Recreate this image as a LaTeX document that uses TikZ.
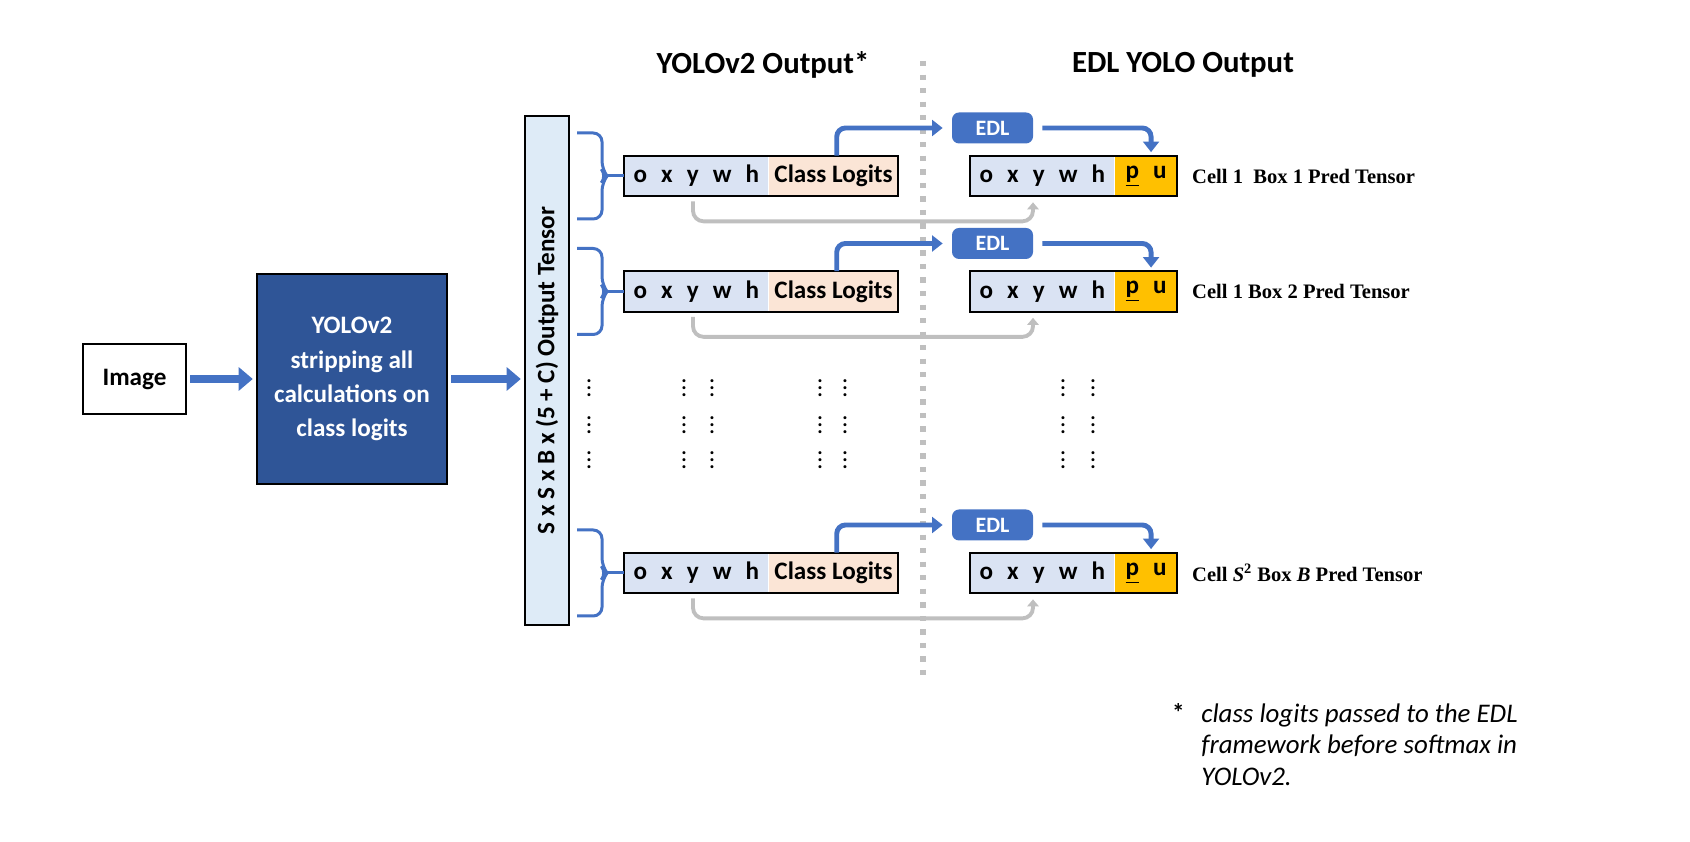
\documentclass[tikz,border=0pt]{standalone}
\usepackage{fontspec}
\setmainfont{Carlito}
\newfontfamily\cellfont{Liberation Serif}
\usetikzlibrary{arrows.meta,positioning}

\definecolor{barblue}{HTML}{DEEBF7}
\definecolor{yoloblue}{HTML}{2F5597}
\definecolor{cellblue}{HTML}{DAE3F3}
\definecolor{logitorange}{HTML}{FBE5D6}
\definecolor{probgold}{HTML}{FFC000}
\definecolor{edlblue}{HTML}{4472C4}
\definecolor{arrowgray}{HTML}{BFBFBF}

\newcommand{\gap}{\hspace{8pt}}
\newcommand{\vdotcol}{\vbox{\baselineskip=3.9pt \lineskiplimit=0pt \hbox{.}\hbox{.}\hbox{.}}}

\begin{document}
\fontsize{14.3}{19.4}\selectfont
\begin{tikzpicture}
\useasboundingbox (0, 0) rectangle (33.8, 16.84);

\tikzset{box/.style={draw, line width=1.1pt, align=center, font=\bfseries}}
\tikzset{part/.style={inner sep=0pt, minimum height=0.8cm, anchor=west, font=\bfseries}}
\tikzset{edlbox/.style={fill=edlblue, rounded corners=4pt, minimum width=1.62cm, minimum height=0.62cm, inner sep=0pt, text=white, font=\fontsize{12.5}{14}\selectfont\bfseries}}
\tikzset{bigarrow/.style={-{Triangle[length=8pt, width=13pt]}, line width=5pt, draw=edlblue, shorten <=2pt, shorten >=2pt}}
\tikzset{edlarrow/.style={-{Triangle[length=6pt, width=9pt]}, line width=2.8pt, draw=edlblue, rounded corners=5pt}}
\tikzset{grayarrow/.style={-{Triangle[length=4pt, width=6.5pt]}, line width=2.2pt, draw=arrowgray, rounded corners=6pt}}
\tikzset{brace/.style={line width=1.7pt, draw=edlblue, rounded corners=5pt}}
\tikzset{divider/.style={line width=3pt, draw=arrowgray, dash pattern=on 3pt off 4.7pt}}

\node[box, minimum width=2.06cm, minimum height=1.4cm] (image) at (2.69, 9.26) {Image};
\node[box, fill=yoloblue, text=white, line width=0.8pt, minimum width=3.8cm, minimum height=4.2cm] (yolo) at (7.04, 9.26) {YOLOv2\\stripping all\\calculations on\\class logits};
\node[box, fill=barblue, line width=0.8pt, minimum width=0.88cm, minimum height=10.18cm] (tensor) at (10.94, 9.43) {};
\node[rotate=90, font=\bfseries] (tensorlab) at (tensor.center) {S x S x B x (5 + C) Output Tensor};

\path (image) edge [bigarrow] (yolo);
\draw[bigarrow] (yolo.east) -- (yolo.east -| tensor.west);

\coordinate (divtop) at (18.46, 15.62);
\coordinate (divbot) at (18.46, 3.22);
\draw[divider] (divtop) -- (divbot);

\node[font=\fontsize{17.5}{20}\selectfont\bfseries] (headyolo) at (15.26, 15.54) {YOLOv2 Output*};
\node[font=\fontsize{17.5}{20}\selectfont\bfseries] (headedl) at (23.66, 15.54) {EDL YOLO Output};

\foreach \r/\y/\lab in {1/13.32/{Cell 1\ \ Box 1 Pred Tensor}, 2/11.01/{Cell 1 Box 2 Pred Tensor}, 3/5.38/{Cell {\itshape S}\textsuperscript{2} Box {\itshape B} Pred Tensor}} {
  \node[part, fill=cellblue, minimum width=2.88cm] (la\r) at (12.48, \y) {o\gap x\gap y\gap w\gap h};
  \node[part, fill=logitorange, minimum width=2.58cm] (lb\r) at (la\r.east) {Class Logits};
  \draw[line width=1.1pt] (la\r.north west) rectangle (lb\r.south east);
  \node[part, fill=cellblue, minimum width=2.88cm] (ra\r) at (19.4, \y) {o\gap x\gap y\gap w\gap h};
  \node[part, fill=probgold, minimum width=1.24cm] (rb\r) at (ra\r.east) {\underline{p}\gap u};
  \draw[line width=1.1pt] (ra\r.north west) rectangle (rb\r.south east);
  \node[edlbox] (edl\r) at (19.85, \y+0.96) {EDL};
  \node[anchor=west, font={\cellfont\fontsize{11.7}{14}\selectfont\bfseries}] (cell\r) at (23.67, \y) {\lab};

  \draw[brace] ([shift={(-0.94, 0.86)}]la\r.west) -- ++(0.5, 0) -- ++(0, -0.74) -- ++(0.1, -0.12) -- ++(-0.1, -0.12) -- ++(0, -0.74) -- ++(-0.5, 0);
  \draw[brace] ([xshift=-0.34cm]la\r.west) -- (la\r.west);

  \draw[edlarrow, shorten >=0.18cm] ([xshift=1.36cm]lb\r.north west) |- (edl\r.west);
  \draw[edlarrow, shorten <=0.18cm, shorten >=2pt] (edl\r.east) -| ([xshift=0.1cm]rb\r.north);
  \draw[grayarrow] ([xshift=1.38cm, yshift=-0.1cm]la\r.south west) -- ++(0, -0.4) -| ([xshift=1.26cm, yshift=-0.12cm]ra\r.south west);
}

\foreach \x [count=\i] in {11.78, 13.68, 14.24, 16.4, 16.9, 21.26, 21.86}
  \foreach \y [count=\j] in {9.08, 8.34, 7.64}
    \node[font=\fontsize{11.5}{11.5}\selectfont\bfseries, inner sep=0pt] (dot\i\j) at (\x, \y) {\vdotcol};

\node[anchor=north west, inner sep=0pt, align=left, font=\fontsize{15.3}{18.2}\selectfont\itshape] (fntext) at (24.02, 2.78) {class logits passed to the EDL\\framework before softmax in\\YOLOv2.};
\node[anchor=north east, inner sep=0pt, font=\bfseries] (fnmark) at ([xshift=-0.32cm]fntext.north west) {*};
\end{tikzpicture}
\end{document}
